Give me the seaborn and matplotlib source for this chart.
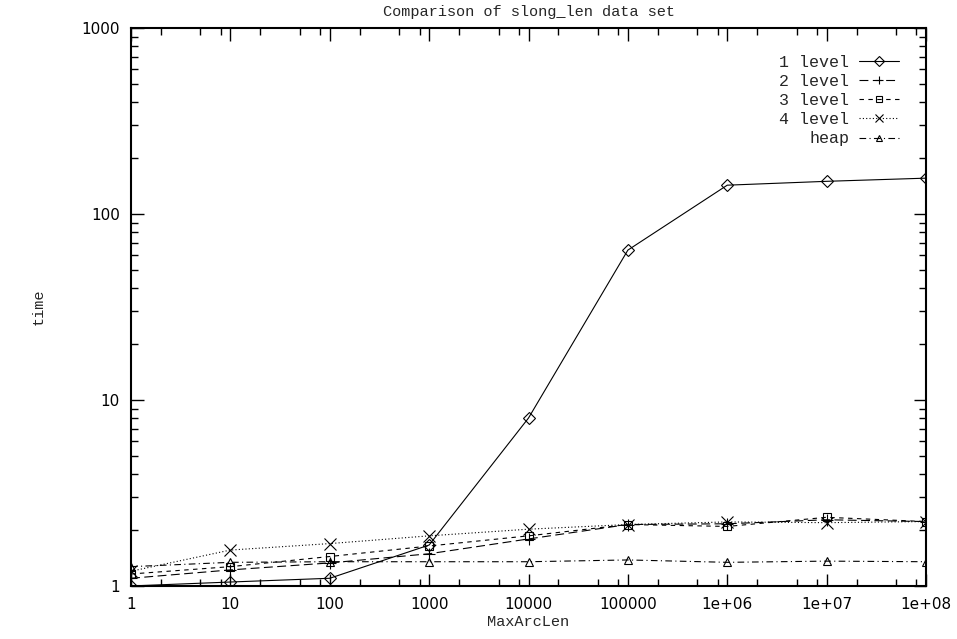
import numpy as np
import pandas as pd
import matplotlib
matplotlib.use('Agg')
import matplotlib.pyplot as plt
import seaborn as sns
from matplotlib.ticker import LogLocator, FixedLocator, FixedFormatter, NullFormatter

# values
max_arc_len = [1, 10, 100, 1000, 10000, 100000, 1e6, 1e7, 1e8]
x_labels = ['1', '10', '100', '1000', '10000', '100000', '1e+06', '1e+07', '1e+08']
level1 = [1.00, 1.05, 1.10, 1.66, 8.0, 64.0, 143.0, 150.0, 156.0]
level2 = [1.10, 1.22, 1.33, 1.49, 1.79, 2.14, 2.16, 2.27, 2.22]
level3 = [1.16, 1.27, 1.44, 1.64, 1.86, 2.14, 2.09, 2.34, 2.22]
level4 = [1.20, 1.56, 1.69, 1.86, 2.02, 2.14, 2.21, 2.19, 2.22]
heap = [1.27, 1.34, 1.35, 1.35, 1.35, 1.38, 1.34, 1.36, 1.35]

series = ['1 level', '2 level', '3 level', '4 level', 'heap']
df = pd.DataFrame({'MaxArcLen': max_arc_len * 5,
                   'time': level1 + level2 + level3 + level4 + heap,
                   'series': [s for s in series for _ in max_arc_len]})

sns.set_style('ticks')
plt.rcParams['font.family'] = ['DejaVu Sans']
mono = 'Liberation Mono'

fig = plt.figure(figsize=(9.57, 6.39), dpi=100)
ax = fig.add_axes([0.1369, 0.083, 0.8307, 0.873])

styles = {'1 level': ('D', '-'),
          '2 level': ('+', (0, (8, 4))),
          '3 level': ('s', (0, (4, 4))),
          '4 level': ('x', (0, (1, 2))),
          'heap': ('^', (0, (6, 3, 1, 3)))}

for s in series:
    m, ls = styles[s]
    sub = df[df['series'] == s]
    sns.lineplot(data=sub, x='MaxArcLen', y='time', ax=ax, color='black',
                 linewidth=0.8, linestyle=ls, marker=m,
                 markersize=8 if m in ('+', 'x') else 6,
                 markerfacecolor='none', markeredgecolor='black',
                 markeredgewidth=0.8, label=s)

ax.set_xscale('log')
ax.set_yscale('log')
ax.set_xlim(1, 1e8)
ax.set_ylim(1, 1000)

ax.xaxis.set_major_locator(FixedLocator(max_arc_len))
ax.xaxis.set_major_formatter(FixedFormatter(x_labels))
ax.xaxis.set_minor_locator(LogLocator(base=10, subs=[2, 5, 8]))
ax.xaxis.set_minor_formatter(NullFormatter())
ax.yaxis.set_major_locator(FixedLocator([1, 10, 100, 1000]))
ax.yaxis.set_major_formatter(FixedFormatter(['1', '10', '100', '1000']))
ax.yaxis.set_minor_locator(LogLocator(base=10, subs=np.arange(2, 10)))
ax.yaxis.set_minor_formatter(NullFormatter())

ax.tick_params(which='both', direction='in', top=True, right=True, colors='black',
               labelsize=11)
ax.tick_params(which='major', length=9, width=1)
ax.tick_params(which='minor', length=5, width=1)
ax.tick_params(axis='x', pad=8)
ax.tick_params(axis='y', pad=8)
for sp in ax.spines.values():
    sp.set_linewidth(1.5)
    sp.set_color('black')

ax.set_title('Comparison of slong_len data set', family=mono, fontsize=11, pad=9)
ax.set_xlabel('MaxArcLen', family=mono, fontsize=11, labelpad=2)
ax.set_ylabel('time', family=mono, fontsize=11, labelpad=26)

leg = ax.legend(loc='upper right', frameon=False, markerfirst=False,
                prop={'family': mono, 'size': 12}, handlelength=2.4,
                handletextpad=0.6, labelspacing=0.25, borderaxespad=1.2,
                markerscale=0.8)
for t in leg.get_texts():
    t.set_ha('right')
leg._legend_box.align = 'right'

fig.savefig('out.png', dpi=100)
